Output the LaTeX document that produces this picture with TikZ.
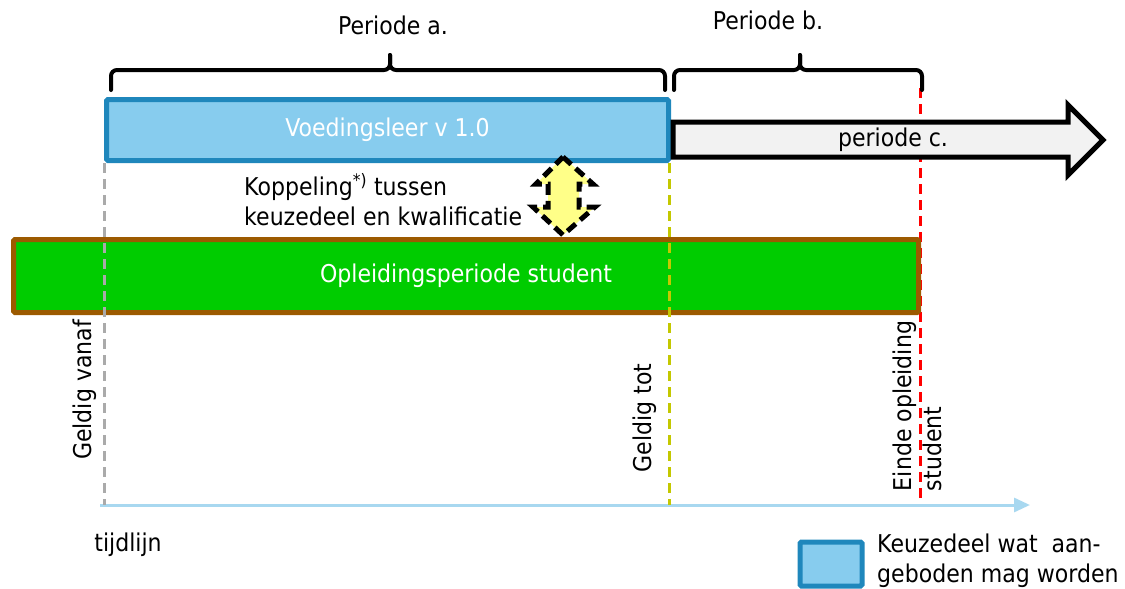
\documentclass[tikz,border=0pt]{standalone}
\usepackage{fontspec}
\setmainfont{DejaVu Sans}[FakeStretch=0.9]
\usetikzlibrary{arrows.meta}

\definecolor{keuzefill}{HTML}{87CCEE}
\definecolor{keuzeline}{HTML}{1F87BC}
\definecolor{opgreen}{HTML}{00CC00}
\definecolor{opbrown}{HTML}{9C5A00}
\definecolor{pergray}{HTML}{F2F2F2}
\definecolor{koppelgeel}{HTML}{FFFF88}
\definecolor{tijdblue}{HTML}{A8D8F0}
\definecolor{guidegray}{HTML}{AAAAAA}
\definecolor{guideolive}{HTML}{C4C800}

\begin{document}
\begin{tikzpicture}[x=1pt,y=-1pt,
	txt/.style={font=\fontsize{24.5}{30}\selectfont, inner sep=0},
	brace/.style={line width=4, line cap=round, rounded corners=6},
	bar/.style={line width=5, rounded corners=1.5, inner sep=0, anchor=north west, text=white},
	guide/.style={line width=3, dash pattern=on 10 off 6}]
	\useasboundingbox (0,0) rectangle (1125,589);

	% tijdlijn
	\coordinate (t0) at (100,505);
	\coordinate (t1) at (1030,505);
	\draw[tijdblue, line width=3, -{Triangle[length=16,width=14]}] (t0) -- (t1);
	\node[txt] (tijd) at (128,545) {tijdlijn};

	% einde opleiding (achter de pijl)
	\coordinate (einde) at (920,88);
	\draw[guide, red] (einde) -- (einde |- 0,500);

	% balken
	\node[bar, draw=keuzeline, fill=keuzefill, minimum width=562, minimum height=61, txt] (voeding) at (104,97) {Voedingsleer v 1.0};
	\node[bar, draw=opbrown, fill=opgreen, minimum width=905, minimum height=73, txt] (opleiding) at (11,237) {Opleidingsperiode student};

	% periode c.
	\draw[line width=5, fill=pergray, line join=miter] (673,122) -- (1068,122) -- (1068,105) -- (1103,140) -- (1068,175) -- (1068,157) -- (673,157) -- cycle;
	\node[txt] (perc) at (893,140) {periode c.};

	% geldigheid
	\draw[guide, guidegray] (voeding.south west) -- (voeding.south west |- t0);
	\draw[guide, guideolive] ([xshift=-2]voeding.south east) -- ([xshift=-2]voeding.south east |- t0);
	\node[txt, rotate=90] (vanaf) at (85,390) {Geldig vanaf};
	\node[txt, rotate=90] (tot) at (645,418) {Geldig tot};
	\node[txt, rotate=90, align=left] (eindetxt) at (917,406) {Einde opleiding\\student};

	% accolades
	\draw[brace] (111,90) -- (111,70) -- (390,70) -- (390,55);
	\draw[brace] (390,55) -- (390,70) -- (665,70) -- (665,90);
	\draw[brace] (674,90) -- (674,70) -- (800,70) -- (800,55);
	\draw[brace] (800,55) -- (800,70) -- (922,70) -- (922,90);
	\node[txt] (pera) at (393,25) {Periode a.};
	\node[txt] (perb) at (768,20) {Periode b.};

	% koppeling
	\draw[line width=5, dash pattern=on 11 off 6, fill=koppelgeel] (563,157) -- (593,184) -- (579,184) -- (579,207) -- (595,207) -- (563,235) -- (533,207) -- (548,207) -- (548,184) -- (536,184) -- cycle;
	\node[txt, align=left, anchor=west] (koppel) at (244,200) {Koppeling\textsuperscript{*)} tussen\\keuzedeel en kwalificatie};

	% legenda
	\draw[line width=5, draw=keuzeline, fill=keuzefill, rounded corners=1.5] (800,542) rectangle (862,586);
	\node[txt, align=left, anchor=west] (legenda) at (877,561) {Keuzedeel wat\ \ aan-\\geboden mag worden};
\end{tikzpicture}
\end{document}
